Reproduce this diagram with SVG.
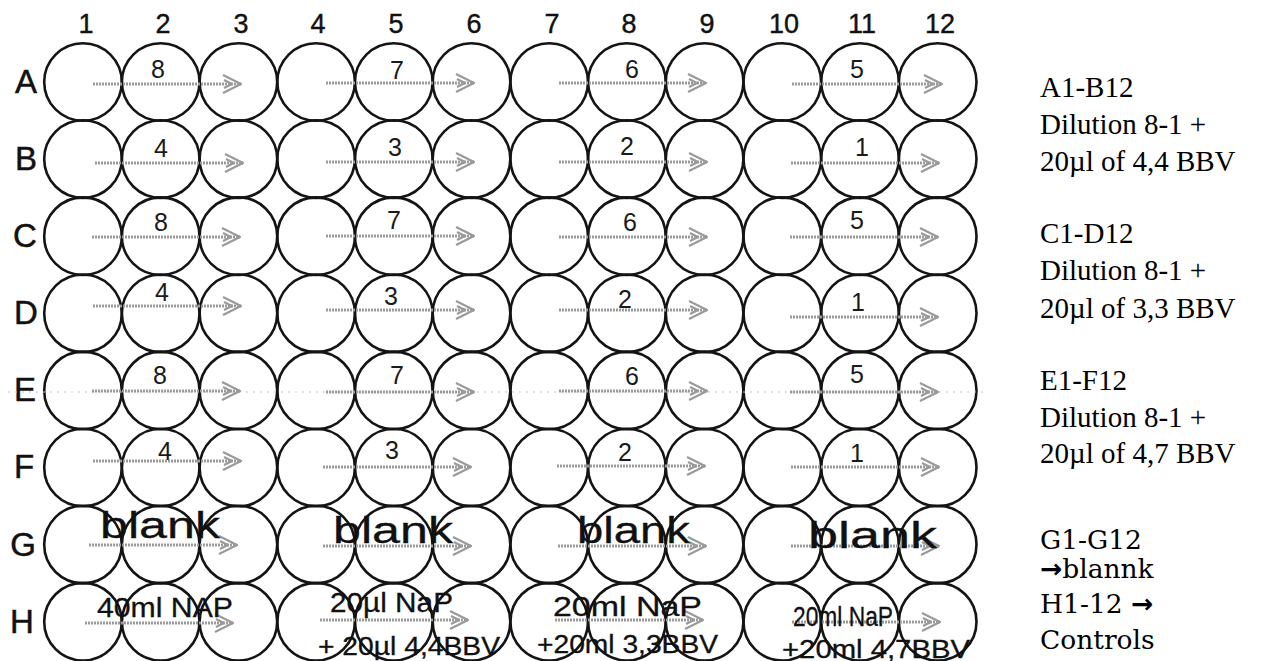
<svg xmlns="http://www.w3.org/2000/svg" width="1270" height="661" viewBox="0 0 1270 661">
<style>
.well{fill:none;stroke:#141414;stroke-width:2.6}
.col{font-family:"Liberation Sans",Arial,sans-serif;font-size:27px;fill:#111;stroke:#111;stroke-width:0.4;text-anchor:middle}
.row{font-family:"Liberation Sans",Arial,sans-serif;font-size:33px;fill:#111;stroke:#111;stroke-width:0.5;text-anchor:middle}
.num{font-family:"Liberation Sans",Arial,sans-serif;font-size:25px;fill:#1a1a1a;text-anchor:middle}
.hw{font-family:"Liberation Sans",Arial,sans-serif;fill:#111;stroke:#111;stroke-width:0.3}
.blank{font-size:36px}
.h1{font-size:27px}
.h2{font-size:25px}
.note{font-family:"Liberation Serif","Times New Roman",serif;font-size:29px;fill:#000}
.note2{font-family:"DejaVu Serif",serif;font-size:26.5px;fill:#000}
.sym{font-family:"DejaVu Sans",sans-serif;font-weight:bold}
.arr{stroke:#9a9a9a;stroke-width:3;stroke-dasharray:2 1;fill:none}
.scan{stroke:#c4c4c4;stroke-width:1.2;stroke-dasharray:2 5;fill:none}
</style>
<defs>
<marker id="head" markerUnits="userSpaceOnUse" markerWidth="22" markerHeight="22" refX="19" refY="11" orient="auto" viewBox="0 0 22 22">
<path d="M1,2 L19,11 L1,20 M2,7 L10,11 L2,15" fill="none" stroke="#9a9a9a" stroke-width="2.2" stroke-linejoin="round"/>
</marker>
</defs>
<rect width="1270" height="661" fill="#fff"/>

<g id="column-labels">
<text class="col" x="86" y="33">1</text>
<text class="col" x="163" y="33">2</text>
<text class="col" x="241" y="33">3</text>
<text class="col" x="318" y="33">4</text>
<text class="col" x="396" y="33">5</text>
<text class="col" x="474" y="33">6</text>
<text class="col" x="552" y="33">7</text>
<text class="col" x="629" y="33">8</text>
<text class="col" x="707" y="33">9</text>
<text class="col" x="784" y="33">10</text>
<text class="col" x="862" y="33">11</text>
<text class="col" x="940" y="33">12</text>
</g>
<g id="row-labels">
<text class="row" x="26" y="93">A</text>
<text class="row" x="26" y="170">B</text>
<text class="row" x="25" y="247">C</text>
<text class="row" x="26" y="324">D</text>
<text class="row" x="25" y="401">E</text>
<text class="row" x="24" y="478">F</text>
<text class="row" x="23" y="556">G</text>
<text class="row" x="22" y="633">H</text>
</g>

<g id="plate">
<g id="well-A1"><circle class="well" cx="83" cy="82" r="38.8"/></g>
<g id="well-A2"><circle class="well" cx="160.7" cy="82" r="38.8"/></g>
<g id="well-A3"><circle class="well" cx="238.4" cy="82" r="38.8"/></g>
<g id="well-A4"><circle class="well" cx="316.1" cy="82" r="38.8"/></g>
<g id="well-A5"><circle class="well" cx="393.8" cy="82" r="38.8"/></g>
<g id="well-A6"><circle class="well" cx="471.5" cy="82" r="38.8"/></g>
<g id="well-A7"><circle class="well" cx="549.2" cy="82" r="38.8"/></g>
<g id="well-A8"><circle class="well" cx="626.9" cy="82" r="38.8"/></g>
<g id="well-A9"><circle class="well" cx="704.6" cy="82" r="38.8"/></g>
<g id="well-A10"><circle class="well" cx="782.3" cy="82" r="38.8"/></g>
<g id="well-A11"><circle class="well" cx="860" cy="82" r="38.8"/></g>
<g id="well-A12"><circle class="well" cx="937.7" cy="82" r="38.8"/></g>

<g id="well-B1"><circle class="well" cx="83" cy="159.1" r="38.8"/></g>
<g id="well-B2"><circle class="well" cx="160.7" cy="159.1" r="38.8"/></g>
<g id="well-B3"><circle class="well" cx="238.4" cy="159.1" r="38.8"/></g>
<g id="well-B4"><circle class="well" cx="316.1" cy="159.1" r="38.8"/></g>
<g id="well-B5"><circle class="well" cx="393.8" cy="159.1" r="38.8"/></g>
<g id="well-B6"><circle class="well" cx="471.5" cy="159.1" r="38.8"/></g>
<g id="well-B7"><circle class="well" cx="549.2" cy="159.1" r="38.8"/></g>
<g id="well-B8"><circle class="well" cx="626.9" cy="159.1" r="38.8"/></g>
<g id="well-B9"><circle class="well" cx="704.6" cy="159.1" r="38.8"/></g>
<g id="well-B10"><circle class="well" cx="782.3" cy="159.1" r="38.8"/></g>
<g id="well-B11"><circle class="well" cx="860" cy="159.1" r="38.8"/></g>
<g id="well-B12"><circle class="well" cx="937.7" cy="159.1" r="38.8"/></g>

<g id="well-C1"><circle class="well" cx="83" cy="236.2" r="38.8"/></g>
<g id="well-C2"><circle class="well" cx="160.7" cy="236.2" r="38.8"/></g>
<g id="well-C3"><circle class="well" cx="238.4" cy="236.2" r="38.8"/></g>
<g id="well-C4"><circle class="well" cx="316.1" cy="236.2" r="38.8"/></g>
<g id="well-C5"><circle class="well" cx="393.8" cy="236.2" r="38.8"/></g>
<g id="well-C6"><circle class="well" cx="471.5" cy="236.2" r="38.8"/></g>
<g id="well-C7"><circle class="well" cx="549.2" cy="236.2" r="38.8"/></g>
<g id="well-C8"><circle class="well" cx="626.9" cy="236.2" r="38.8"/></g>
<g id="well-C9"><circle class="well" cx="704.6" cy="236.2" r="38.8"/></g>
<g id="well-C10"><circle class="well" cx="782.3" cy="236.2" r="38.8"/></g>
<g id="well-C11"><circle class="well" cx="860" cy="236.2" r="38.8"/></g>
<g id="well-C12"><circle class="well" cx="937.7" cy="236.2" r="38.8"/></g>

<g id="well-D1"><circle class="well" cx="83" cy="313.3" r="38.8"/></g>
<g id="well-D2"><circle class="well" cx="160.7" cy="313.3" r="38.8"/></g>
<g id="well-D3"><circle class="well" cx="238.4" cy="313.3" r="38.8"/></g>
<g id="well-D4"><circle class="well" cx="316.1" cy="313.3" r="38.8"/></g>
<g id="well-D5"><circle class="well" cx="393.8" cy="313.3" r="38.8"/></g>
<g id="well-D6"><circle class="well" cx="471.5" cy="313.3" r="38.8"/></g>
<g id="well-D7"><circle class="well" cx="549.2" cy="313.3" r="38.8"/></g>
<g id="well-D8"><circle class="well" cx="626.9" cy="313.3" r="38.8"/></g>
<g id="well-D9"><circle class="well" cx="704.6" cy="313.3" r="38.8"/></g>
<g id="well-D10"><circle class="well" cx="782.3" cy="313.3" r="38.8"/></g>
<g id="well-D11"><circle class="well" cx="860" cy="313.3" r="38.8"/></g>
<g id="well-D12"><circle class="well" cx="937.7" cy="313.3" r="38.8"/></g>

<g id="well-E1"><circle class="well" cx="83" cy="390.4" r="38.8"/></g>
<g id="well-E2"><circle class="well" cx="160.7" cy="390.4" r="38.8"/></g>
<g id="well-E3"><circle class="well" cx="238.4" cy="390.4" r="38.8"/></g>
<g id="well-E4"><circle class="well" cx="316.1" cy="390.4" r="38.8"/></g>
<g id="well-E5"><circle class="well" cx="393.8" cy="390.4" r="38.8"/></g>
<g id="well-E6"><circle class="well" cx="471.5" cy="390.4" r="38.8"/></g>
<g id="well-E7"><circle class="well" cx="549.2" cy="390.4" r="38.8"/></g>
<g id="well-E8"><circle class="well" cx="626.9" cy="390.4" r="38.8"/></g>
<g id="well-E9"><circle class="well" cx="704.6" cy="390.4" r="38.8"/></g>
<g id="well-E10"><circle class="well" cx="782.3" cy="390.4" r="38.8"/></g>
<g id="well-E11"><circle class="well" cx="860" cy="390.4" r="38.8"/></g>
<g id="well-E12"><circle class="well" cx="937.7" cy="390.4" r="38.8"/></g>

<g id="well-F1"><circle class="well" cx="83" cy="467.5" r="38.8"/></g>
<g id="well-F2"><circle class="well" cx="160.7" cy="467.5" r="38.8"/></g>
<g id="well-F3"><circle class="well" cx="238.4" cy="467.5" r="38.8"/></g>
<g id="well-F4"><circle class="well" cx="316.1" cy="467.5" r="38.8"/></g>
<g id="well-F5"><circle class="well" cx="393.8" cy="467.5" r="38.8"/></g>
<g id="well-F6"><circle class="well" cx="471.5" cy="467.5" r="38.8"/></g>
<g id="well-F7"><circle class="well" cx="549.2" cy="467.5" r="38.8"/></g>
<g id="well-F8"><circle class="well" cx="626.9" cy="467.5" r="38.8"/></g>
<g id="well-F9"><circle class="well" cx="704.6" cy="467.5" r="38.8"/></g>
<g id="well-F10"><circle class="well" cx="782.3" cy="467.5" r="38.8"/></g>
<g id="well-F11"><circle class="well" cx="860" cy="467.5" r="38.8"/></g>
<g id="well-F12"><circle class="well" cx="937.7" cy="467.5" r="38.8"/></g>

<g id="well-G1"><circle class="well" cx="83" cy="544.6" r="38.8"/></g>
<g id="well-G2"><circle class="well" cx="160.7" cy="544.6" r="38.8"/></g>
<g id="well-G3"><circle class="well" cx="238.4" cy="544.6" r="38.8"/></g>
<g id="well-G4"><circle class="well" cx="316.1" cy="544.6" r="38.8"/></g>
<g id="well-G5"><circle class="well" cx="393.8" cy="544.6" r="38.8"/></g>
<g id="well-G6"><circle class="well" cx="471.5" cy="544.6" r="38.8"/></g>
<g id="well-G7"><circle class="well" cx="549.2" cy="544.6" r="38.8"/></g>
<g id="well-G8"><circle class="well" cx="626.9" cy="544.6" r="38.8"/></g>
<g id="well-G9"><circle class="well" cx="704.6" cy="544.6" r="38.8"/></g>
<g id="well-G10"><circle class="well" cx="782.3" cy="544.6" r="38.8"/></g>
<g id="well-G11"><circle class="well" cx="860" cy="544.6" r="38.8"/></g>
<g id="well-G12"><circle class="well" cx="937.7" cy="544.6" r="38.8"/></g>

<g id="well-H1"><circle class="well" cx="83" cy="621.7" r="38.8"/></g>
<g id="well-H2"><circle class="well" cx="160.7" cy="621.7" r="38.8"/></g>
<g id="well-H3"><circle class="well" cx="238.4" cy="621.7" r="38.8"/></g>
<g id="well-H4"><circle class="well" cx="316.1" cy="621.7" r="38.8"/></g>
<g id="well-H5"><circle class="well" cx="393.8" cy="621.7" r="38.8"/></g>
<g id="well-H6"><circle class="well" cx="471.5" cy="621.7" r="38.8"/></g>
<g id="well-H7"><circle class="well" cx="549.2" cy="621.7" r="38.8"/></g>
<g id="well-H8"><circle class="well" cx="626.9" cy="621.7" r="38.8"/></g>
<g id="well-H9"><circle class="well" cx="704.6" cy="621.7" r="38.8"/></g>
<g id="well-H10"><circle class="well" cx="782.3" cy="621.7" r="38.8"/></g>
<g id="well-H11"><circle class="well" cx="860" cy="621.7" r="38.8"/></g>
<g id="well-H12"><circle class="well" cx="937.7" cy="621.7" r="38.8"/></g>
</g>

<g id="connectors">
<line class="scan" x1="8" y1="392" x2="985" y2="392"/>
<line class="arr" x1="93" y1="84" x2="241" y2="84" marker-end="url(#head)"/>
<line class="arr" x1="326" y1="83" x2="474" y2="83" marker-end="url(#head)"/>
<line class="arr" x1="559" y1="83" x2="706" y2="83" marker-end="url(#head)"/>
<line class="arr" x1="792" y1="84" x2="942" y2="84" marker-end="url(#head)"/>

<line class="arr" x1="95" y1="163" x2="243" y2="163" marker-end="url(#head)"/>
<line class="arr" x1="326" y1="162" x2="474" y2="162" marker-end="url(#head)"/>
<line class="arr" x1="559" y1="162" x2="707" y2="162" marker-end="url(#head)"/>
<line class="arr" x1="791" y1="163" x2="939" y2="163" marker-end="url(#head)"/>

<line class="arr" x1="92" y1="237" x2="240" y2="237" marker-end="url(#head)"/>
<line class="arr" x1="326" y1="236" x2="474" y2="236" marker-end="url(#head)"/>
<line class="arr" x1="559" y1="237" x2="707" y2="237" marker-end="url(#head)"/>
<line class="arr" x1="790" y1="237" x2="938" y2="237" marker-end="url(#head)"/>

<line class="arr" x1="93" y1="306" x2="241" y2="306" marker-end="url(#head)"/>
<line class="arr" x1="326" y1="310" x2="474" y2="310" marker-end="url(#head)"/>
<line class="arr" x1="559" y1="310" x2="707" y2="310" marker-end="url(#head)"/>
<line class="arr" x1="790" y1="317" x2="938" y2="317" marker-end="url(#head)"/>

<line class="arr" x1="92" y1="391" x2="240" y2="391" marker-end="url(#head)"/>
<line class="arr" x1="326" y1="392" x2="474" y2="392" marker-end="url(#head)"/>
<line class="arr" x1="559" y1="391" x2="707" y2="391" marker-end="url(#head)"/>
<line class="arr" x1="790" y1="392" x2="938" y2="392" marker-end="url(#head)"/>

<line class="arr" x1="93" y1="461" x2="241" y2="461" marker-end="url(#head)"/>
<line class="arr" x1="323" y1="467" x2="471" y2="467" marker-end="url(#head)"/>
<line class="arr" x1="557" y1="466" x2="705" y2="466" marker-end="url(#head)"/>
<line class="arr" x1="791" y1="467" x2="939" y2="467" marker-end="url(#head)"/>

<line class="arr" x1="89" y1="545" x2="237" y2="545" marker-end="url(#head)"/>
<line class="arr" x1="323" y1="546" x2="471" y2="546" marker-end="url(#head)"/>
<line class="arr" x1="558" y1="546" x2="706" y2="546" marker-end="url(#head)"/>
<line class="arr" x1="791" y1="546" x2="939" y2="546" marker-end="url(#head)"/>

<line class="arr" x1="85" y1="623" x2="233" y2="623" marker-end="url(#head)"/>
<line class="arr" x1="320" y1="620" x2="468" y2="620" marker-end="url(#head)"/>
<line class="arr" x1="555" y1="620" x2="703" y2="620" marker-end="url(#head)"/>
<line class="arr" x1="792" y1="622" x2="940" y2="622" marker-end="url(#head)"/>
</g>

<g id="dilution-numbers">
<text class="num" x="158" y="78">8</text>
<text class="num" x="397" y="79">7</text>
<text class="num" x="632" y="78">6</text>
<text class="num" x="857" y="78">5</text>
<text class="num" x="161" y="157">4</text>
<text class="num" x="395" y="156">3</text>
<text class="num" x="627" y="155">2</text>
<text class="num" x="862" y="156">1</text>
<text class="num" x="161" y="231">8</text>
<text class="num" x="394" y="229">7</text>
<text class="num" x="630" y="231">6</text>
<text class="num" x="857" y="229">5</text>
<text class="num" x="162" y="301">4</text>
<text class="num" x="391" y="305">3</text>
<text class="num" x="625" y="308">2</text>
<text class="num" x="858" y="311">1</text>
<text class="num" x="160" y="384">8</text>
<text class="num" x="397" y="384">7</text>
<text class="num" x="632" y="385">6</text>
<text class="num" x="857" y="383">5</text>
<text class="num" x="165" y="460">4</text>
<text class="num" x="392" y="459">3</text>
<text class="num" x="625" y="461">2</text>
<text class="num" x="857" y="462">1</text>
</g>

<g id="row-G-notes">
<text class="hw blank" x="100" y="538" textLength="120" lengthAdjust="spacingAndGlyphs">blank</text>
<text class="hw blank" x="333" y="543" textLength="120" lengthAdjust="spacingAndGlyphs">blank</text>
<text class="hw blank" x="577" y="543" textLength="113" lengthAdjust="spacingAndGlyphs">blank</text>
<text class="hw blank" x="808" y="548" textLength="129" lengthAdjust="spacingAndGlyphs">blank</text>
</g>

<g id="row-H-notes">
<text class="hw h1" x="97" y="617" textLength="136" lengthAdjust="spacingAndGlyphs">40ml NAP</text>
<text class="hw h1" x="330" y="612" textLength="123" lengthAdjust="spacingAndGlyphs">20µl NaP</text>
<text class="hw h2" x="318" y="655" textLength="182" lengthAdjust="spacingAndGlyphs">+ 20µl 4,4BBV</text>
<text class="hw h1" x="553" y="616" textLength="149" lengthAdjust="spacingAndGlyphs">20ml NaP</text>
<text class="hw h2" x="537" y="653" textLength="181" lengthAdjust="spacingAndGlyphs">+20ml 3,3BBV</text>
<text class="hw h1" x="793" y="626" textLength="100" lengthAdjust="spacingAndGlyphs">20ml NaP</text>
<text class="hw h2" x="782" y="658" textLength="188" lengthAdjust="spacingAndGlyphs">+20ml 4,7BBV</text>
</g>

<g id="legend">
<text class="note" x="1040" y="97">A1-B12</text>
<text class="note" x="1040" y="134">Dilution 8-1 +</text>
<text class="note" x="1040" y="171">20µl of 4,4 BBV</text>
<text class="note" x="1040" y="243">C1-D12</text>
<text class="note" x="1040" y="280">Dilution 8-1 +</text>
<text class="note" x="1040" y="318">20µl of 3,3 BBV</text>
<text class="note" x="1040" y="390">E1-F12</text>
<text class="note" x="1040" y="427">Dilution 8-1 +</text>
<text class="note" x="1040" y="463">20µl of 4,7 BBV</text>
<text class="note2" x="1040" y="549">G1-G12</text>
<text class="note2" x="1040" y="578"><tspan class="sym">→</tspan>blannk</text>
<text class="note2" x="1040" y="613">H1-12 <tspan class="sym">→</tspan></text>
<text class="note2" x="1040" y="649">Controls</text>
</g>
</svg>
